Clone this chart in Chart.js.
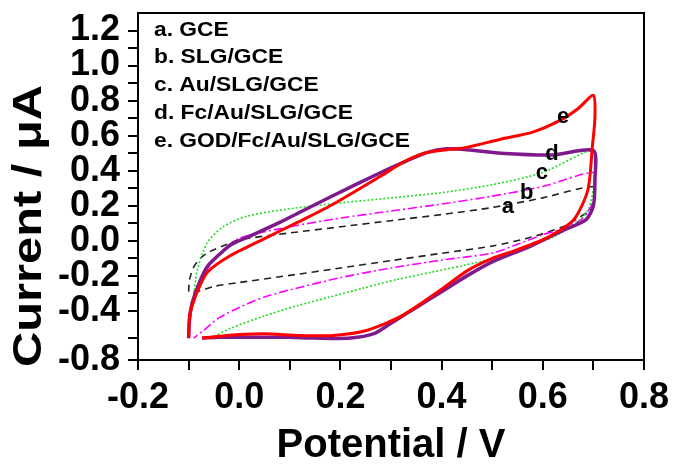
<!DOCTYPE html>
<html>
<head>
<meta charset="utf-8">
<script src="https://cdn.jsdelivr.net/npm/chart.js@4.4.0/dist/chart.umd.min.js"></script>
<style>
  html, body { margin: 0; padding: 0; background: #fff; }
  #wrap { width: 676px; height: 466px; }
</style>
</head>
<body>
<div id="wrap"><canvas id="cv_chart"></canvas></div>
<script>
// potential (V) and current (uA), forward scan then reverse
var potentialA = [-0.1, -0.098, -0.09, -0.077, -0.057, -0.024, 0.0, 0.1, 0.2, 0.3, 0.4, 0.5, 0.6, 0.7,
                  0.702, 0.695, 0.67, 0.64, 0.576, 0.5, 0.4, 0.3, 0.2, 0.1, 0.0, -0.05, -0.083, -0.1];
var currentA   = [-0.29, -0.22, -0.15, -0.10, -0.06, -0.02, 0.006, 0.045, 0.08, 0.115, 0.15, 0.19, 0.245, 0.31,
                  0.24, 0.18, 0.13, 0.08, 0.02, -0.03, -0.071, -0.113, -0.155, -0.197, -0.238, -0.26, -0.29, -0.29];

var potentialB = [-0.1, -0.097, -0.09, -0.08, -0.064, -0.038, 0.0, 0.1, 0.2, 0.3, 0.4, 0.5, 0.6, 0.7,
                  0.703, 0.7, 0.69, 0.675, 0.64, 0.6, 0.55, 0.5, 0.4, 0.3, 0.2, 0.1, 0.05, 0.0, -0.04, -0.07, -0.09];
var currentB   = [-0.555, -0.45, -0.34, -0.24, -0.165, -0.07, 0.015, 0.08, 0.13, 0.17, 0.21, 0.255, 0.31, 0.39,
                  0.30, 0.23, 0.17, 0.12, 0.07, 0.035, -0.02, -0.07, -0.11, -0.155, -0.21, -0.28, -0.32, -0.38, -0.44, -0.51, -0.555];

var potentialC = [-0.1, -0.097, -0.093, -0.083, -0.063, -0.032, 0.015, 0.08, 0.18, 0.3, 0.4, 0.5, 0.6, 0.7,
                  0.703, 0.7, 0.69, 0.665, 0.62, 0.58, 0.517, 0.444, 0.378, 0.313, 0.245, 0.18, 0.115, 0.048, -0.018, -0.052];
var currentC   = [-0.555, -0.45, -0.38, -0.17, -0.01, 0.08, 0.14, 0.175, 0.21, 0.245, 0.275, 0.32, 0.39, 0.52,
                  0.42, 0.30, 0.18, 0.10, 0.02, -0.02, -0.09, -0.14, -0.18, -0.22, -0.27, -0.32, -0.37, -0.43, -0.50, -0.55];

var potentialD = [-0.1, -0.097, -0.087, -0.064, -0.04, -0.018, 0.016, 0.08, 0.18, 0.28, 0.33, 0.372, 0.41, 0.45, 0.517, 0.62, 0.7,
                  0.703, 0.7, 0.685, 0.64, 0.576, 0.5, 0.45, 0.4, 0.35, 0.3, 0.266, 0.22, 0.15, 0.1, 0.05, 0.0, -0.04, -0.073];
var currentD   = [-0.555, -0.41, -0.30, -0.15, -0.08, -0.025, 0.02, 0.105, 0.25, 0.39, 0.455, 0.505, 0.525, 0.52, 0.50, 0.49, 0.515,
                  0.35, 0.20, 0.12, 0.06, -0.03, -0.12, -0.20, -0.29, -0.38, -0.47, -0.53, -0.555, -0.555, -0.55, -0.55, -0.55, -0.55, -0.555];

var potentialE = [-0.1, -0.098, -0.087, -0.063, -0.018, 0.048, 0.115, 0.18, 0.28, 0.325, 0.365, 0.41, 0.444, 0.517, 0.58, 0.636, 0.67, 0.7,
                  0.703, 0.698, 0.689, 0.661, 0.61, 0.55, 0.5, 0.451, 0.398, 0.32, 0.253, 0.186, 0.12, 0.05, 0.0, -0.04, -0.073];
var currentE   = [-0.555, -0.43, -0.32, -0.18, -0.085, 0.01, 0.105, 0.20, 0.37, 0.45, 0.50, 0.52, 0.53, 0.58, 0.62, 0.69, 0.755, 0.83,
                  0.70, 0.54, 0.29, 0.12, 0.02, -0.05, -0.10, -0.17, -0.28, -0.43, -0.51, -0.54, -0.54, -0.53, -0.535, -0.545, -0.555];

var curveLetters = ['a', 'b', 'c', 'd', 'e'];
var curveNames = ['a. GCE', 'b. SLG/GCE', 'c. Au/SLG/GCE', 'd. Fc/Au/SLG/GCE', 'e. GOD/Fc/Au/SLG/GCE'];
// where the single letters sit next to their curves (V, uA)
var letterV = [0.531, 0.568, 0.598, 0.618, 0.640];
var letterI = [0.194, 0.274, 0.389, 0.497, 0.709];

var xTickValues = [-0.2, -0.1, 0.0, 0.1, 0.2, 0.3, 0.4, 0.5, 0.6, 0.7, 0.8];
var xTickLabels = ['-0.2', '', '0.0', '', '0.2', '', '0.4', '', '0.6', '', '0.8'];
var yTickValues = [-0.68, -0.555, -0.4, -0.3, -0.2, -0.1, 0.0, 0.1, 0.2, 0.3, 0.4, 0.5, 0.6, 0.7, 0.8, 0.9, 1.0, 1.1, 1.2];
var yTickLabels = ['-0.8', '', '-0.4', '', '-0.2', '', '0.0', '', '0.2', '', '0.4', '', '0.6', '', '0.8', '', '1.0', '', '1.2'];

var FONT = '"Liberation Sans", Arial, sans-serif';

function toPoints(vs, is) {
    var pts = [];
    for (var i = 0; i < vs.length; i++) pts.push({x: vs[i], y: is[i]});
    return pts;
}

// letters on the curves, the name list, the y title and the frame
var annotatePlugin = {
    id: 'annotate',
    afterDraw: function(chart) {
        var ctx = chart.ctx;
        var area = chart.chartArea;
        var xs = chart.scales.x, ys = chart.scales.y;
        ctx.save();
        ctx.fillStyle = '#000';

        ctx.font = 'bold 22px ' + FONT;
        ctx.textAlign = 'center';
        ctx.textBaseline = 'middle';
        for (var i = 0; i < curveLetters.length; i++) {
            ctx.fillText(curveLetters[i], xs.getPixelForValue(letterV[i]), ys.getPixelForValue(letterI[i]));
        }

        // the name list is a little wider than the plain font
        ctx.save();
        ctx.translate(area.left + 16, area.top + 17);
        ctx.scale(1.14, 1);
        ctx.font = 'bold 20px ' + FONT;
        ctx.textAlign = 'left';
        for (var j = 0; j < curveNames.length; j++) {
            ctx.fillText(curveNames[j], 0, j * 27.8);
        }
        ctx.restore();

        // y title, stretched along its length like the original
        ctx.save();
        ctx.translate(30, 226);
        ctx.rotate(-Math.PI / 2);
        ctx.font = 'bold 40px ' + FONT;
        var w = ctx.measureText('Current / \u03bcA').width;
        ctx.scale(282 / w, 1);
        ctx.textAlign = 'center';
        ctx.fillText('Current / \u03bcA', 0, 0);
        ctx.restore();

        ctx.strokeStyle = '#000';
        ctx.lineWidth = 2;
        ctx.strokeRect(area.left, area.top, area.right - area.left, area.bottom - area.top);
        ctx.restore();
    }
};

var ctxCv = document.getElementById('cv_chart').getContext('2d');

var cv_chart = new Chart(ctxCv, {
    type: 'scatter',
    data: {
        datasets: [
            { label: curveNames[4], data: toPoints(potentialE, currentE), borderColor: '#ff0000', borderWidth: 3 },
            { label: curveNames[3], data: toPoints(potentialD, currentD), borderColor: '#7f1a8c', borderWidth: 3.5 },
            { label: curveNames[2], data: toPoints(potentialC, currentC), borderColor: '#22dd22', borderWidth: 1.6, borderDash: [2, 2] },
            { label: curveNames[1], data: toPoints(potentialB, currentB), borderColor: '#ff00ff', borderWidth: 1.6, borderDash: [9, 3, 2, 3] },
            { label: curveNames[0], data: toPoints(potentialA, currentA), borderColor: '#222222', borderWidth: 1.6, borderDash: [7, 5] }
        ]
    },
    options: {
        responsive: true,
        maintainAspectRatio: false,
        animation: false,
        devicePixelRatio: 1,
        datasets: {
            scatter: { showLine: true, pointRadius: 0, tension: 0.25, fill: false }
        },
        layout: { padding: { left: 0, right: 32, top: 13, bottom: 0 } },
        plugins: {
            legend: { display: false },
            tooltip: { enabled: false }
        },
        scales: {
            x: {
                type: 'linear',
                min: -0.2,
                max: 0.8,
                afterBuildTicks: function(scale) {
                    scale.ticks = xTickValues.map(function(v) { return {value: v}; });
                },
                afterFit: function(scale) {
                    scale.height = 106;
                    scale.paddingLeft = 0;
                    scale.paddingRight = 0;
                },
                ticks: {
                    autoSkip: false,
                    maxRotation: 0,
                    padding: 6,
                    color: '#000',
                    font: { family: FONT, size: 36, weight: 'bold' },
                    callback: function(value, index) { return xTickLabels[index]; }
                },
                grid: { drawOnChartArea: false, drawTicks: true, tickLength: 10, color: '#000', lineWidth: 2 },
                border: { display: true, color: '#000', width: 2 },
                title: {
                    display: true,
                    text: 'Potential / V',
                    color: '#000',
                    padding: { top: 0, bottom: 0 },
                    font: { family: FONT, size: 40, weight: 'bold', lineHeight: 1 }
                }
            },
            y: {
                type: 'linear',
                min: -0.68,
                max: 1.3,
                afterBuildTicks: function(scale) {
                    scale.ticks = yTickValues.map(function(v) { return {value: v}; });
                },
                afterFit: function(scale) {
                    scale.width = 138;
                    scale.paddingTop = 0;
                    scale.paddingBottom = 0;
                },
                ticks: {
                    autoSkip: false,
                    padding: 8,
                    color: '#000',
                    font: { family: FONT, size: 36, weight: 'bold' },
                    callback: function(value, index) { return yTickLabels[index]; }
                },
                grid: { drawOnChartArea: false, drawTicks: true, tickLength: 10, color: '#000', lineWidth: 2 },
                border: { display: true, color: '#000', width: 2 }
            }
        }
    },
    plugins: [annotatePlugin]
});
</script>
</body>
</html>
